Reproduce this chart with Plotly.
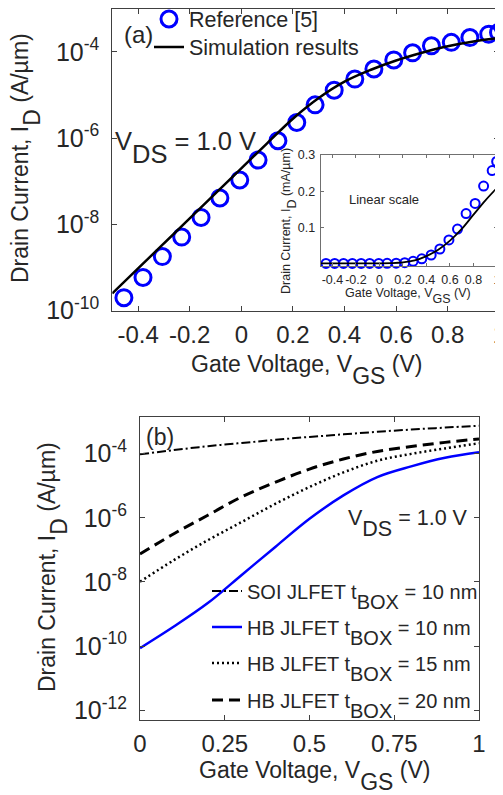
import plotly.graph_objects as go

W, H = 503, 795
OFF = 8  # default body margin of the html page
FONT = "Liberation Sans, Arial, sans-serif"
TXT = "#262626"
AX = "#404040"

# ---------- Panel (a) data ----------
ref_vgs = [-0.455, -0.381, -0.306, -0.231, -0.156, -0.083, -0.006, 0.065, 0.142, 0.215,
           0.286, 0.360, 0.440, 0.514, 0.591, 0.664, 0.737, 0.814, 0.886, 0.959, 0.997]
ref_id = [2.0e-10, 5.9e-10, 1.8e-9, 5.1e-9, 1.45e-8, 4.1e-8, 1.07e-7, 3.1e-7, 8.7e-7, 2.3e-6,
          5.9e-6, 1.29e-5, 2.34e-5, 4.0e-5, 6.5e-5, 9.5e-5, 1.38e-4, 1.66e-4, 2.14e-4, 2.57e-4, 2.82e-4]
sim_vgs = [-0.5, -0.4, -0.3, -0.2, -0.1, 0.0, 0.1, 0.2, 0.3, 0.4, 0.5, 0.6, 0.7, 0.8, 0.9, 1.0]
sim_id = [2.51e-10, 9.55e-10, 3.63e-9, 1.38e-8, 5.25e-8, 2.0e-7, 7.59e-7, 2.82e-6, 8.51e-6, 2.04e-5,
          3.80e-5, 6.31e-5, 9.55e-5, 1.35e-4, 1.74e-4, 2.09e-4]

# ---------- Panel (b) data ----------
vgs_b = [0.0, 0.1, 0.2, 0.3, 0.4, 0.5, 0.6, 0.7, 0.8, 0.9, 1.0]
soi_10 = [9.5e-5, 1.29e-4, 1.70e-4, 2.14e-4, 2.69e-4, 3.31e-4, 3.98e-4, 4.79e-4, 5.62e-4, 6.46e-4, 7.41e-4]
hb_10 = [8.7e-11, 4.1e-10, 2.2e-9, 1.66e-8, 1.26e-7, 9.3e-7, 5.0e-6, 1.86e-5, 4.0e-5, 7.4e-5, 1.10e-4]
hb_15 = [1.02e-8, 4.8e-8, 2.0e-7, 7.4e-7, 2.75e-6, 9.1e-6, 2.6e-5, 6.0e-5, 9.8e-5, 1.45e-4, 2.09e-4]
hb_20 = [7.4e-8, 3.2e-7, 1.2e-6, 4.5e-6, 1.29e-5, 3.3e-5, 6.8e-5, 1.17e-4, 1.66e-4, 2.24e-4, 2.88e-4]

x_ticks_a = [-0.4, -0.2, 0, 0.2, 0.4, 0.6, 0.8, 1]
x_ticktext_a = ["-0.4", "-0.2", "0", "0.2", "0.4", "0.6", "0.8", "1"]
y_ticks_a = [1e-10, 1e-8, 1e-6, 1e-4]
y_ticktext_a = ["10<sup>-10</sup>", "10<sup>-8</sup>", "10<sup>-6</sup>", "10<sup>-4</sup>"]
y_ticks_in = [0.1, 0.2, 0.3]
x_ticks_b = [0, 0.25, 0.5, 0.75, 1]
x_ticktext_b = ["0", "0.25", "0.5", "0.75", "1"]
y_ticks_b = [1e-12, 1e-10, 1e-8, 1e-6, 1e-4]
y_ticktext_b = ["10<sup>-12</sup>", "10<sup>-10</sup>", "10<sup>-8</sup>", "10<sup>-6</sup>", "10<sup>-4</sup>"]


def px_x(p):
    return (p - OFF) / W


def px_y(p):
    return 1 - (p - OFF) / H


def sub(t, shift=0.5):
    return '<span style="baseline-shift:-%sem">%s</span>' % (shift, t)


fig = go.Figure()

fig.add_trace(go.Scatter(x=ref_vgs, y=ref_id, mode="markers", name="Reference [5]",
                         marker=dict(symbol="circle-open", size=16, color="#0000ff", line=dict(width=3)),
                         xaxis="x", yaxis="y", legend="legend"))
fig.add_trace(go.Scatter(x=sim_vgs, y=sim_id, mode="lines", name="Simulation results",
                         line=dict(color="black", width=2.5, shape="spline"),
                         xaxis="x", yaxis="y", legend="legend2"))
fig.add_trace(go.Scatter(x=ref_vgs, y=[v * 1e3 for v in ref_id], mode="markers", showlegend=False,
                         marker=dict(symbol="circle-open", size=9, color="#0000ff", line=dict(width=2)),
                         cliponaxis=False, xaxis="x2", yaxis="y2"))
fig.add_trace(go.Scatter(x=sim_vgs, y=[v * 1e3 for v in sim_id], mode="lines", showlegend=False,
                         line=dict(color="black", width=1.8, shape="spline"),
                         xaxis="x2", yaxis="y2"))
fig.add_trace(go.Scatter(x=vgs_b, y=soi_10, mode="lines", name="SOI JLFET t" + sub("BOX") + " = 10 nm",
                         line=dict(color="black", width=2, dash="9px,3px,2px,3px", shape="spline"),
                         xaxis="x3", yaxis="y3", legend="legend3"))
fig.add_trace(go.Scatter(x=vgs_b, y=hb_10, mode="lines", name="HB JLFET t" + sub("BOX") + " = 10 nm",
                         line=dict(color="#0000ff", width=2.5, shape="spline"),
                         xaxis="x3", yaxis="y3", legend="legend4"))
fig.add_trace(go.Scatter(x=vgs_b, y=hb_15, mode="lines", name="HB JLFET t" + sub("BOX") + " = 15 nm",
                         line=dict(color="black", width=2.5, dash="2px,3px", shape="spline"),
                         xaxis="x3", yaxis="y3", legend="legend5"))
fig.add_trace(go.Scatter(x=vgs_b, y=hb_20, mode="lines", name="HB JLFET t" + sub("BOX") + " = 20 nm",
                         line=dict(color="black", width=3, dash="11px,6px", shape="spline"),
                         xaxis="x3", yaxis="y3", legend="legend6"))

common = dict(showline=True, linecolor=AX, linewidth=1, mirror="ticks", ticks="inside",
              ticklen=5, tickcolor=AX, showgrid=False, zeroline=False,
              tickfont=dict(family=FONT, size=24, color=TXT))
inset_common = {**common, "tickfont": dict(family=FONT, size=12.5, color=TXT), "ticklen": 3,
                "linecolor": "#707070", "tickcolor": "#707070", "tickangle": 0}


def leg(x_text, y_center, size):
    # text starts ~40 px right of legend x; first item centre = top + (1.3*size+3)/2 + 5
    return dict(x=px_x(x_text - 40), y=px_y(y_center - (1.3 * size + 3) / 2 - 5),
                xanchor="left", yanchor="top",
                bgcolor="rgba(0,0,0,0)", borderwidth=0,
                font=dict(family=FONT, size=size, color=TXT), itemsizing="trace")


fig.update_layout(
    width=W, height=H, margin=dict(l=0, r=0, t=0, b=0, autoexpand=False),
    paper_bgcolor="white", plot_bgcolor="white",
    font=dict(family=FONT, color=TXT),
    xaxis=dict(domain=[px_x(112.3), px_x(499.3)], range=[-0.5, 1], anchor="y",
               tickvals=x_ticks_a, ticktext=x_ticktext_a, ticklabelstandoff=2, **common),
    yaxis=dict(domain=[px_y(310.7), px_y(8.7)], type="log", range=[-10, -3], anchor="x",
               tickvals=y_ticks_a, ticktext=y_ticktext_a, ticklabelstandoff=7,
               **{**common, "tickfont": dict(family=FONT, size=25, color=TXT)}),
    xaxis2=dict(domain=[px_x(320.7), px_x(497)], range=[-0.5, 1], anchor="y2",
                tickvals=x_ticks_a, ticktext=x_ticktext_a, ticklabelstandoff=2, **inset_common),
    yaxis2=dict(domain=[px_y(266), px_y(155)], range=[-0.007, 0.3], anchor="x2",
                tickvals=y_ticks_in, ticklabelstandoff=2, **inset_common),
    xaxis3=dict(domain=[px_x(140), px_x(479)], range=[0, 1], anchor="y3",
                tickvals=x_ticks_b, ticktext=x_ticktext_b, ticklabelstandoff=2, **common),
    yaxis3=dict(domain=[px_y(720), px_y(416.7)], type="log", range=[-12.3, -2.85], anchor="x3",
                tickvals=y_ticks_b, ticktext=y_ticktext_b, ticklabelstandoff=7,
                **{**common, "tickfont": dict(family=FONT, size=25, color=TXT)}),
    legend=leg(189, 19, 21.5),
    legend2=leg(189, 47, 21.5),
    legend3=leg(247, 591, 20),
    legend4=leg(247, 627, 20),
    legend5=leg(247, 663, 20),
    legend6=leg(247, 700, 20),
)

ann = [
    dict(text="(a)", x=px_x(122), y=px_y(35), xanchor="left", yanchor="middle", size=24),
    dict(text="V" + sub("DS") + " = 1.0 V", x=px_x(113), y=px_y(148), xanchor="left", yanchor="middle", size=25.5),
    dict(text="Linear scale", x=px_x(347), y=px_y(200), xanchor="left", yanchor="middle", size=13),
    dict(text="Gate Voltage, V" + sub("GS") + " (V)", x=px_x(408), y=px_y(296), xanchor="center", yanchor="middle", size=12.5),
    dict(text="Drain Current, I" + sub("D") + " (mA/µm)", x=px_x(289), y=px_y(221), xanchor="center", yanchor="middle", size=12.5, textangle=-90),
    dict(text="Gate Voltage, V" + sub("GS") + " (V)", x=px_x(306), y=px_y(370), xanchor="center", yanchor="middle", size=23),
    dict(text="Drain Current, I" + sub("D") + " (A/µm)", x=px_x(26), y=px_y(158), xanchor="center", yanchor="middle", size=23, textangle=-90),
    dict(text="(b)", x=px_x(144), y=px_y(437), xanchor="left", yanchor="middle", size=23),
    dict(text="V" + sub("DS") + " = 1.0 V", x=px_x(346), y=px_y(523), xanchor="left", yanchor="middle", size=21.5),
    dict(text="Gate Voltage, V" + sub("GS") + " (V)", x=px_x(314), y=px_y(776), xanchor="center", yanchor="middle", size=23),
    dict(text="Drain Current, I" + sub("D") + " (A/µm)", x=px_x(53), y=px_y(567), xanchor="center", yanchor="middle", size=23, textangle=-90),
]
for a in ann:
    size = a.pop("size")
    fig.add_annotation(xref="paper", yref="paper", showarrow=False,
                       font=dict(family=FONT, size=size, color=TXT), **a)

fig.write_html("out.html")
